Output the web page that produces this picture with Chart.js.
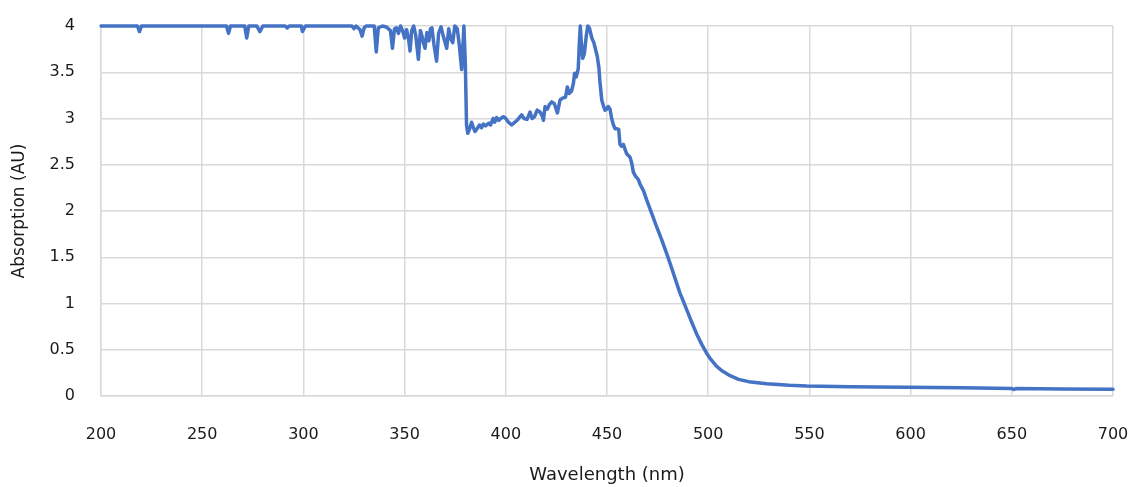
<!DOCTYPE html>
<html>
<head>
<meta charset="utf-8">
<script src="https://cdn.jsdelivr.net/npm/chart.js@4/dist/chart.umd.min.js"></script>
<style>
html,body{margin:0;padding:0;background:#fff;}
#wrap{width:1130px;height:487px;position:relative;}
</style>
</head>
<body>
<div id="wrap"><canvas id="c" width="1130" height="487"></canvas></div>
<script>
const wavelength = [200,218,219,220,262,263,264,271,272,273,277,278.5,280,291,292,293,299,299.5,301,324,325,326,328,329,330,331,335,336,337,339,341,343,344,345,346,347,348,349,350,351,352,352.7,353.5,354.5,355.5,356.8,357.8,358.5,359.3,360.1,361,362,362.8,363.5,364.5,365.8,366.8,368,369,370.8,371.8,372.8,373.8,374.8,376,377,378.2,379.3,380,380.6,381.2,382,383.1,384,384.8,385.8,387,388,388.9,390,391.6,392.5,393.7,394.5,395.5,396.5,397.5,398.8,400,401.3,402.9,404.5,406,407.8,409,410.5,412,413,414.2,415.5,416.9,418,418.6,419.4,420.5,421.5,422.7,424,425.5,426.8,428,429.5,430.4,431.3,432.5,433.4,434,434.8,435.8,436.3,436.8,437.4,438,438.8,439.8,440.5,441.3,442.5,443.5,444.2,445.2,446,446.5,447.4,448.2,449,449.8,450.6,451.5,452.3,453.2,454,455,455.8,456.4,457.2,458.1,459,459.7,460.6,461.4,462.2,463,464,465.5,466.3,468,469.6,472,474.5,477,479.5,482,484.4,486.1,487.8,489.4,492,494.3,497,499.3,501.5,504.2,507,510.8,515,520,528.9,540,548.7,570,598,625,650,651,652,675,700];
const absorbance = [4,4,3.94,4,4,3.92,4,4,3.87,4,4,3.94,4,4,3.98,4,4,3.94,4,4,3.97,4,3.96,3.89,3.98,4,4,3.72,3.98,4,3.99,3.95,3.76,3.97,3.98,3.92,4,3.95,3.87,3.96,3.85,3.73,3.95,4,3.9,3.64,3.95,3.9,3.82,3.76,3.93,3.84,3.97,3.98,3.8,3.62,3.92,3.99,3.9,3.76,3.97,3.86,3.82,4,3.97,3.8,3.53,4,3.6,2.93,2.84,2.88,2.96,2.9,2.86,2.89,2.93,2.9,2.94,2.92,2.95,2.93,3.0,2.96,3.01,2.98,3.0,3.02,3.0,2.96,2.93,2.96,2.99,3.04,3.0,2.99,3.07,3.0,3.02,3.09,3.07,3.03,2.98,3.13,3.1,3.15,3.18,3.16,3.06,3.2,3.22,3.23,3.34,3.27,3.3,3.38,3.49,3.45,3.54,3.8,4,3.8,3.65,3.7,3.9,4,3.98,3.87,3.82,3.76,3.67,3.55,3.4,3.2,3.14,3.09,3.1,3.13,3.1,3.0,2.93,2.89,2.89,2.88,2.72,2.7,2.72,2.66,2.62,2.6,2.58,2.52,2.42,2.38,2.34,2.29,2.22,2.12,1.98,1.83,1.69,1.54,1.38,1.22,1.11,1.02,0.93,0.79,0.67,0.55,0.46,0.39,0.32,0.27,0.22,0.18,0.155,0.133,0.115,0.107,0.1,0.095,0.088,0.08,0.07,0.08,0.076,0.072];
const xTicks = [200,250,300,350,400,450,500,550,600,650,700];
const yTicks = [0,0.5,1,1.5,2,2.5,3,3.5,4];
const xTitle = 'Wavelength (nm)';
const yTitle = 'Absorption (AU)';

const points = wavelength.map((w,i)=>({x:w,y:absorbance[i]}));
const FONT = 'DejaVu Sans';
const TXT = '#1a1a1a';
const GRID = '#d9d9d9';

new Chart(document.getElementById('c'), {
  type: 'line',
  data: { datasets: [{
    data: points,
    borderColor: '#4472C4',
    borderWidth: 3.5,
    borderJoinStyle: 'round',
    borderCapStyle: 'round',
    pointRadius: 0,
    tension: 0,
    fill: false,
    clip: 6
  }]},
  options: {
    responsive: false,
    animation: false,
    events: [],
    layout: { padding: { top: 26, right: 17, bottom: 0, left: 0 } },
    plugins: { legend: { display: false }, tooltip: { enabled: false } },
    scales: {
      x: {
        type: 'linear', min: 200, max: 700,
        afterBuildTicks: s => { s.ticks = xTicks.map(v=>({value:v})); },
        afterFit: s => { s.height = 91; s.paddingLeft = 0; s.paddingRight = 0; },
        grid: { color: GRID, lineWidth: 1.5, drawTicks: false },
        border: { color: GRID, width: 1.5 },
        ticks: { padding: 29, color: TXT, font: { family: FONT, size: 16 }, maxRotation: 0, callback: v => String(v) },
        title: { display: true, text: xTitle, color: TXT, font: { family: FONT, size: 18 }, padding: { top: 0, bottom: 1 } }
      },
      y: {
        type: 'linear', min: 0, max: 4,
        afterBuildTicks: s => { s.ticks = yTicks.map(v=>({value:v})); },
        afterFit: s => { s.width = 101; s.paddingTop = 0; s.paddingBottom = 0; },
        grid: { color: GRID, lineWidth: 1.5, drawTicks: false },
        border: { color: GRID, width: 1.5 },
        ticks: { padding: 26, color: TXT, font: { family: FONT, size: 16 }, callback: v => String(v) },
        title: { display: true, text: yTitle, color: TXT, font: { family: FONT, size: 17 }, padding: { top: 9, bottom: 0 } }
      }
    }
  }
});
</script>
</body>
</html>
